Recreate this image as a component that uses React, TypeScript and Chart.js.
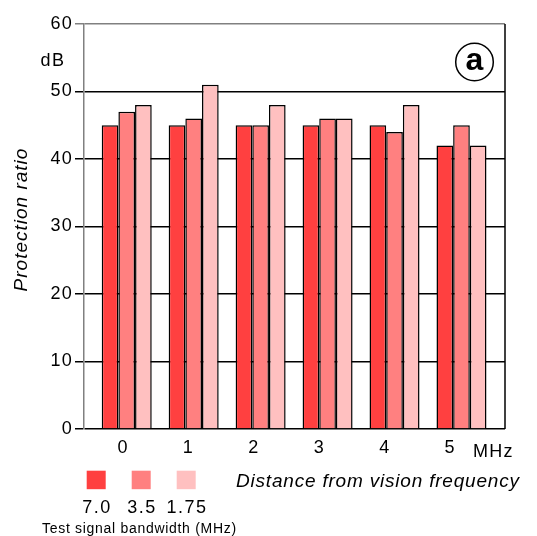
import React, { useEffect, useRef } from 'react';
import { Chart, registerables } from 'chart.js';

Chart.register(...registerables);

const categories = ['0', '1', '2', '3', '4', '5'];
const series70 = [45, 45, 45, 45, 45, 42];
const series35 = [47, 46, 45, 46, 44, 45];
const series175 = [48, 51, 48, 46, 48, 42];
const seriesLabels = ['7.0', '3.5', '1.75'];
const seriesColors = ['#FF4040', '#FF8080', '#FFC0C0'];
const yTickValues = [0, 10, 20, 30, 40, 50, 60];

const FONT = '"Liberation Sans", Arial, Helvetica, sans-serif';

const spacingPlugin = {
  id: 'spacing',
  beforeDraw(chart: any) {
    (chart.ctx as any).letterSpacing = '1.2px';
  },
};

const extrasPlugin = {
  id: 'extras',
  afterDraw(chart: any) {
    const ctx = chart.ctx as any;
    const area = chart.chartArea;
    ctx.save();
    // right border
    ctx.strokeStyle = '#000';
    ctx.lineWidth = 1.5;
    ctx.beginPath();
    ctx.moveTo(area.right, area.top);
    ctx.lineTo(area.right, area.bottom);
    ctx.stroke();

    // circled "a"
    ctx.beginPath();
    ctx.lineWidth = 1.5;
    ctx.arc(474.5, 62, 18.8, 0, Math.PI * 2);
    ctx.stroke();
    ctx.fillStyle = '#000';
    ctx.letterSpacing = '0px';
    ctx.font = `bold 32px ${FONT}`;
    ctx.textAlign = 'center';
    ctx.textBaseline = 'alphabetic';
    ctx.fillText('a', 474.5, 70);

    // dB
    ctx.letterSpacing = '1.5px';
    ctx.font = `18px ${FONT}`;
    ctx.textAlign = 'left';
    ctx.fillText('dB', 40.5, 65.5);

    // MHz
    ctx.letterSpacing = '1.2px';
    ctx.fillText('MHz', 473, 456.5);

    // x title
    ctx.letterSpacing = '0.8px';
    ctx.font = `italic 19px ${FONT}`;
    ctx.textAlign = 'left';
    ctx.fillText('Distance from vision frequency', 236, 487);

    // legend
    const sq = [86.7, 131.7, 176.7];
    seriesLabels.forEach((lab, i) => {
      ctx.fillStyle = seriesColors[i];
      ctx.fillRect(sq[i], 470.7, 19, 18.5);
      ctx.fillStyle = '#000';
      ctx.letterSpacing = '1.5px';
      ctx.font = `18px ${FONT}`;
      ctx.textAlign = 'center';
      ctx.fillText(lab, sq[i] + 10.2, 513);
    });
    ctx.letterSpacing = '0.7px';
    ctx.font = `14px ${FONT}`;
    ctx.textAlign = 'left';
    ctx.fillText('Test signal bandwidth (MHz)', 42, 533);

    // y title
    ctx.save();
    ctx.translate(26.7, 219.5);
    ctx.rotate(-Math.PI / 2);
    ctx.letterSpacing = '1px';
    ctx.font = `italic 19px ${FONT}`;
    ctx.textAlign = 'center';
    ctx.fillText('Protection ratio', 0, 0);
    ctx.restore();

    ctx.restore();
  },
};

export default function App() {
  const ref = useRef<HTMLCanvasElement | null>(null);

  useEffect(() => {
    if (!ref.current) return;
    Chart.defaults.font.family = FONT;
    Chart.defaults.color = '#000';
    const allSeries = [series70, series35, series175];
    const chart = new Chart(ref.current, {
      type: 'bar',
      data: {
        datasets: allSeries.map((s, i) => ({
          label: seriesLabels[i],
          data: s.map((v, k) => ({ x: k, y: v })),
          backgroundColor: seriesColors[i],
          borderColor: '#000',
          borderWidth: 1.5,
          categoryPercentage: 0.747,
          barPercentage: 1,
          xAxisID: 'x',
          yAxisID: 'y',
        })),
      },
      options: {
        animation: false,
        responsive: true,
        maintainAspectRatio: false,
        layout: { padding: { top: 24, right: 32, left: 0, bottom: 0 } },
        plugins: {
          legend: { display: false },
          tooltip: { enabled: false },
        },
        scales: {
          x: {
            type: 'linear',
            display: false,
            offset: false,
            bounds: 'data',
            grace: 0,
            min: -0.638,
            max: 5.65,
            grid: { offset: false },
            afterBuildTicks: (scale: any) => {
              scale.ticks = categories.map((_, i) => ({ value: i }));
            },
          },
          xl: {
            type: 'linear',
            position: 'bottom',
            offset: false,
            bounds: 'data',
            grace: 0,
            min: -0.596,
            max: 5.837,
            grid: { display: false, drawTicks: false, offset: false },
            border: { display: false },
            afterBuildTicks: (scale: any) => {
              scale.ticks = categories.map((_, i) => ({ value: i }));
            },
            ticks: {
              padding: 8,
              font: { size: 18 },
              color: '#000',
              callback: (v: any) => categories[Math.round(Number(v))] ?? '',
            },
            afterFit: (scale: any) => {
              scale.height = 107;
            },
          },
          y: {
            type: 'linear',
            min: 0,
            max: 60,
            afterBuildTicks: (scale: any) => {
              scale.ticks = yTickValues.map((v) => ({ value: v }));
            },
            ticks: {
              padding: 2,
              font: { size: 18 },
              color: '#000',
            },
            grid: {
              color: (c: any) => (c.tick && c.tick.value === 60 ? '#808080' : '#000'),
              lineWidth: 1.5,
              tickLength: 9,
            },
            border: { display: true, color: '#808080', width: 1.5 },
            afterFit: (scale: any) => {
              scale.width = 84;
            },
          },
        },
      },
      plugins: [spacingPlugin, extrasPlugin],
    } as any);
    return () => chart.destroy();
  }, []);

  return (
    <div style={{ position: 'absolute', left: 0, top: 0, width: 537, height: 536, background: '#fff' }}>
      <canvas ref={ref} />
    </div>
  );
}
